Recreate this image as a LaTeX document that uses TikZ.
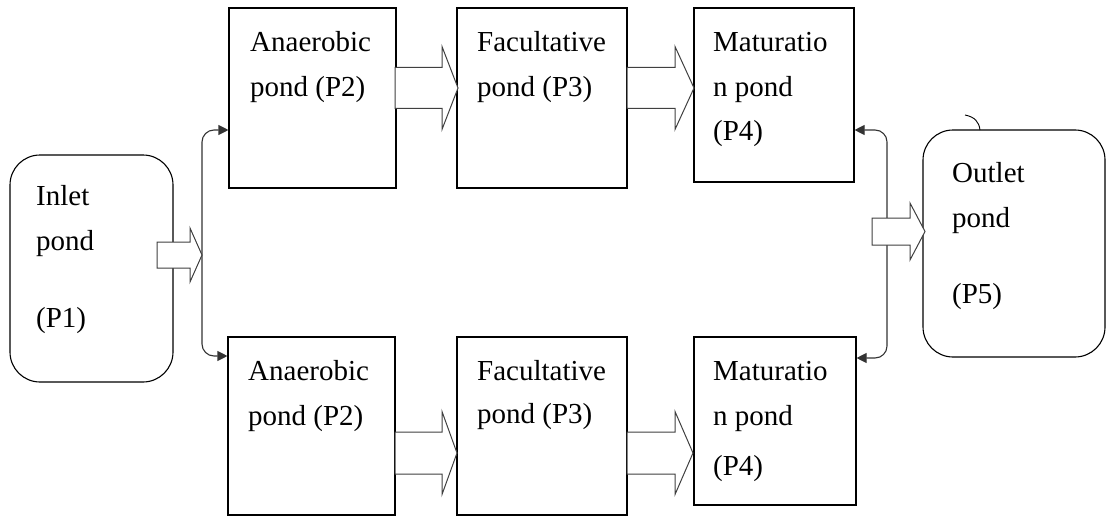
\documentclass[tikz,border=0pt]{standalone}
\usepackage{fontspec}
\setmainfont{Liberation Serif}
\usetikzlibrary{arrows.meta}
\begin{document}
\begin{tikzpicture}[x=1pt,y=-1pt,
  pondbox/.style={draw=black, line width=1.1pt, fill=white, inner sep=0pt},
  endpond/.style={pondbox, rounded corners=30pt},
  txt/.style={anchor=base west, inner sep=0pt, font=\fontsize{29}{34}\selectfont},
  flow/.style={draw=black!75, line width=1pt, fill=white, line join=miter},
  link/.style={draw=black!80, line width=1.1pt, rounded corners=12pt,
    -{Triangle[length=10pt,width=10pt]}}
]
\useasboundingbox (0,0) rectangle (1107,516);

% ponds
\node[endpond, minimum width=163pt, minimum height=227pt] (p1) at (91.5,268.5) {};
\node[pondbox, minimum width=167pt, minimum height=180pt] (a1) at (312.5,98) {};
\node[pondbox, minimum width=170pt, minimum height=180pt] (f1) at (542,98) {};
\node[pondbox, minimum width=160pt, minimum height=174pt] (m1) at (774,95) {};
\node[pondbox, minimum width=167pt, minimum height=178pt] (a2) at (311.5,426) {};
\node[pondbox, minimum width=170pt, minimum height=178pt] (f2) at (542,426) {};
\node[pondbox, minimum width=162pt, minimum height=168pt] (m2) at (775,421) {};
\node[endpond, minimum width=182pt, minimum height=227pt] (p5) at (1014,243.5) {};

% small curl on the outlet pond
\draw[line width=0.9pt] (965,115) .. controls (975,117) and (979,122) .. (980,130);

% split and merge connectors
\coordinate (split) at (202,255);
\coordinate (merge) at (887,231);
\draw[link] (split) |- (a1.west |- 0,130);
\draw[link] (split) |- (a2.west |- 0,356);
\draw[link] (merge) |- (m1.east |- 0,130);
\draw[link] (merge) |- (m2.east |- 0,358);

% block flow arrows
\newcommand{\flowarrow}[6]{% x0, x1 (head start), x2 (tip), yc, half shaft, half head
  \draw[flow] (#1,#4-#5) -- (#2,#4-#5) -- (#2,#4-#6) -- (#3,#4) -- (#2,#4+#6)
    -- (#2,#4+#5) -- (#1,#4+#5) -- cycle;}
\flowarrow{157}{190}{202}{255}{13}{27}
\flowarrow{395}{442}{458}{88}{20.5}{41.5}
\flowarrow{627}{675}{694}{88}{20.5}{41.5}
\flowarrow{395}{442}{457}{453}{21}{41.5}
\flowarrow{627}{675}{693}{453}{21}{41.5}
\flowarrow{872}{910}{925}{231.5}{13.5}{28.5}

% labels
\node[txt] (t1a) at (36,205) {Inlet};
\node[txt] (t1b) at (36,250) {pond};
\node[txt] (t1c) at (36,327) {(P1)};

\node[txt] (a1a) at (250,52) {Anaerobic};
\node[txt] (a1b) at (250,97) {pond (P2)};
\node[txt] (f1a) at (477,52) {Facultative};
\node[txt] (f1b) at (477,97) {pond (P3)};
\node[txt] (m1a) at (713,52) {Maturatio};
\node[txt] (m1b) at (713,97) {n pond};
\node[txt] (m1c) at (713,140) {(P4)};

\node[txt] (a2a) at (248,380) {Anaerobic};
\node[txt] (a2b) at (248,425) {pond (P2)};
\node[txt] (f2a) at (477,380) {Facultative};
\node[txt] (f2b) at (477,423) {pond (P3)};
\node[txt] (m2a) at (713,380) {Maturatio};
\node[txt] (m2b) at (713,425) {n pond};
\node[txt] (m2c) at (713,475) {(P4)};

\node[txt] (t5a) at (952,182) {Outlet};
\node[txt] (t5b) at (952,227) {pond};
\node[txt] (t5c) at (952,303) {(P5)};
\end{tikzpicture}
\end{document}
